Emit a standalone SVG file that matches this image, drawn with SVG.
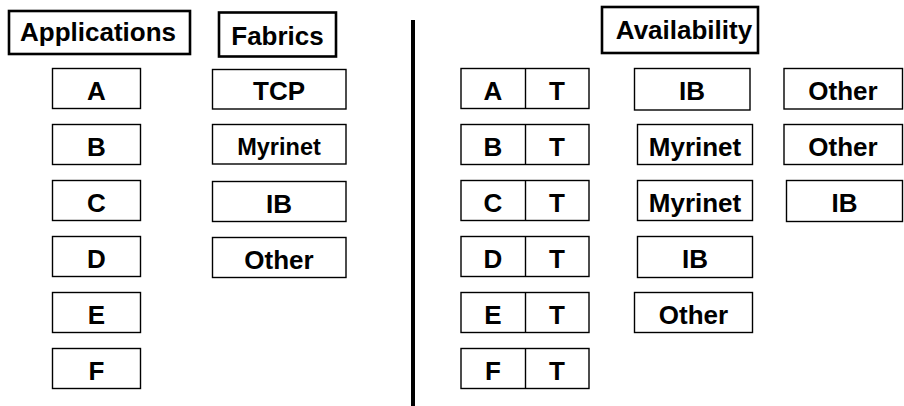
<svg xmlns="http://www.w3.org/2000/svg" width="904" height="406" viewBox="0 0 904 406">
  <style>
    text { font-family: "Liberation Sans", Arial, sans-serif; font-weight: bold; fill: #000; text-anchor: middle; }
    .title rect { fill: #fff; stroke: #000; stroke-width: 2.6; }
    .title text { font-size: 26px; }
    .item rect, .pair rect { fill: #fff; stroke: #000; stroke-width: 1.4; }
    .pair line { stroke: #000; stroke-width: 1.4; }
    .item text, .pair text { font-size: 26px; }
    .small text { font-size: 23.5px; }
  </style>
  <rect width="904" height="406" fill="#fff"/>

  <!-- Column headings -->
  <g id="title-applications" class="title">
    <rect x="9" y="11" width="181" height="43"/>
    <text x="98" y="41">Applications</text>
  </g>
  <g id="title-fabrics" class="title">
    <rect x="219" y="12.5" width="117" height="44"/>
    <text x="277.5" y="45">Fabrics</text>
  </g>
  <g id="title-availability" class="title">
    <rect x="602" y="7" width="156" height="46"/>
    <text x="684" y="38.5">Availability</text>
  </g>

  <!-- Applications list -->
  <g id="app-a" class="item"><rect x="52.5" y="68.5" width="88" height="40"/><text x="96.5" y="99.5">A</text></g>
  <g id="app-b" class="item"><rect x="52.5" y="124.5" width="88" height="40"/><text x="96.5" y="155.5">B</text></g>
  <g id="app-c" class="item"><rect x="52.5" y="180.5" width="88" height="40"/><text x="96.5" y="211.5">C</text></g>
  <g id="app-d" class="item"><rect x="52.5" y="236.5" width="88" height="40"/><text x="96.5" y="267.5">D</text></g>
  <g id="app-e" class="item"><rect x="52.5" y="292.5" width="88" height="40"/><text x="96.5" y="323.5">E</text></g>
  <g id="app-f" class="item"><rect x="52.5" y="348.5" width="88" height="40"/><text x="96.5" y="379.5">F</text></g>

  <!-- Fabrics list -->
  <g id="fab-tcp" class="item"><rect x="212.5" y="69.5" width="133.5" height="39.5"/><text x="279" y="100">TCP</text></g>
  <g id="fab-myrinet" class="item small"><rect x="212.5" y="124.5" width="133.5" height="39.5"/><text x="279" y="154.5">Myrinet</text></g>
  <g id="fab-ib" class="item"><rect x="212.5" y="181.5" width="133.5" height="40"/><text x="279" y="212.5">IB</text></g>
  <g id="fab-other" class="item"><rect x="212.5" y="237.5" width="133.5" height="40"/><text x="279" y="268.5">Other</text></g>

  <!-- Divider between the two halves -->
  <g id="divider">
    <line x1="413" y1="20" x2="413" y2="406" stroke="#000" stroke-width="4"/>
  </g>

  <!-- Application / TCP pairs -->
  <g id="avail-a" class="pair"><rect x="461" y="68.5" width="128" height="40"/><line x1="525.5" y1="68.5" x2="525.5" y2="108.5"/><text x="493" y="99.5">A</text><text x="557" y="99.5">T</text></g>
  <g id="avail-b" class="pair"><rect x="461" y="124.5" width="128" height="40"/><line x1="525.5" y1="124.5" x2="525.5" y2="164.5"/><text x="493" y="155.5">B</text><text x="557" y="155.5">T</text></g>
  <g id="avail-c" class="pair"><rect x="461" y="180.5" width="128" height="40"/><line x1="525.5" y1="180.5" x2="525.5" y2="220.5"/><text x="493" y="211.5">C</text><text x="557" y="211.5">T</text></g>
  <g id="avail-d" class="pair"><rect x="461" y="236.5" width="128" height="40"/><line x1="525.5" y1="236.5" x2="525.5" y2="276.5"/><text x="493" y="267.5">D</text><text x="557" y="267.5">T</text></g>
  <g id="avail-e" class="pair"><rect x="461" y="292.5" width="128" height="40"/><line x1="525.5" y1="292.5" x2="525.5" y2="332.5"/><text x="493" y="323.5">E</text><text x="557" y="323.5">T</text></g>
  <g id="avail-f" class="pair"><rect x="461" y="348.5" width="128" height="40"/><line x1="525.5" y1="348.5" x2="525.5" y2="388.5"/><text x="493" y="379.5">F</text><text x="557" y="379.5">T</text></g>

  <!-- Second fabric per application -->
  <g id="avail-a-ib" class="item"><rect x="634.5" y="68.5" width="115.5" height="41.5"/><text x="692" y="100">IB</text></g>
  <g id="avail-b-myrinet" class="item"><rect x="637.5" y="124.5" width="115" height="40"/><text x="695" y="155.5">Myrinet</text></g>
  <g id="avail-c-myrinet" class="item"><rect x="637.5" y="180.5" width="115" height="40"/><text x="695" y="211.5">Myrinet</text></g>
  <g id="avail-d-ib" class="item"><rect x="637.5" y="236.5" width="115" height="41"/><text x="695" y="268">IB</text></g>
  <g id="avail-e-other" class="item"><rect x="634.5" y="292.5" width="118" height="40"/><text x="693.5" y="323.5">Other</text></g>

  <!-- Third fabric per application -->
  <g id="avail-a-other" class="item"><rect x="784" y="68.5" width="118.5" height="40.5"/><text x="843" y="100">Other</text></g>
  <g id="avail-b-other" class="item"><rect x="784" y="124.5" width="118.5" height="40"/><text x="843" y="155.5">Other</text></g>
  <g id="avail-c-ib" class="item"><rect x="786.5" y="180.5" width="116" height="41"/><text x="844.5" y="212">IB</text></g>
</svg>
